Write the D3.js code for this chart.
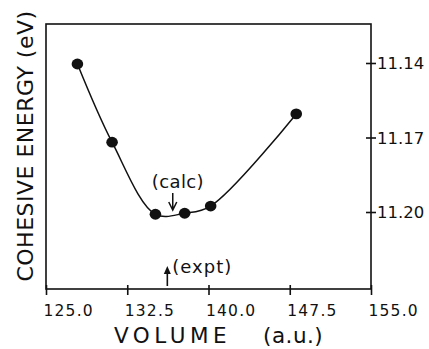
<!DOCTYPE html>
<html>
<head>
<meta charset="utf-8">
<script src="https://cdn.jsdelivr.net/npm/d3@7"></script>
<style>
  body { margin: 0; background: #fff; }
  svg { display: block; font-family: "DejaVu Sans", sans-serif; }
</style>
</head>
<body>
<svg></svg>
<script>
// values
const volumes = [127.9, 131.1, 135.1, 137.8, 140.2, 148.1];
const energies = [11.1404, 11.1719, 11.2009, 11.2005, 11.1976, 11.1605];
const xTicks = [125.0, 132.5, 140.0, 147.5, 155.0];
const yTicks = [11.14, 11.17, 11.20];
const calcVolume = 136.7;
const exptVolume = 136.2;

const svg = d3.select("svg")
    .attr("width", 429)
    .attr("height", 349);

const margin = { top: 24, right: 58, bottom: 60, left: 46 };
const width = 429 - margin.left - margin.right;
const height = 349 - margin.top - margin.bottom;

const g = svg.append("g")
    .attr("transform", `translate(${margin.left},${margin.top})`);

const x = d3.scaleLinear().domain([125, 155]).range([0, width]);
const y = d3.scaleLinear().domain([11.1243, 11.2310]).range([0, height]);

const ink = "#111";

// frame
g.append("rect")
    .attr("width", width)
    .attr("height", height)
    .attr("fill", "none")
    .attr("stroke", ink)
    .attr("stroke-width", 1.6);

// bottom axis, ticks crossing the line
const xAxis = g.append("g")
    .attr("transform", `translate(0,${height})`)
    .call(d3.axisBottom(x).tickValues(xTicks).tickFormat(d3.format(".1f")).tickSize(6).tickSizeOuter(0));
xAxis.select(".domain").remove();
xAxis.selectAll("line").attr("y1", -4).attr("stroke", ink).attr("stroke-width", 1.6);
xAxis.selectAll("text")
    .attr("text-anchor", "start")
    .attr("x", -3)
    .attr("y", 27)
    .attr("dy", 0)
    .attr("fill", ink)
    .style("font-size", "15.5px")
    .style("letter-spacing", "1.2px")
    .style("font-family", "DejaVu Sans");

// right axis
const yAxis = g.append("g")
    .attr("transform", `translate(${width},0)`)
    .call(d3.axisRight(y).tickValues(yTicks).tickFormat(d3.format(".2f")).tickSize(5).tickSizeOuter(0));
yAxis.select(".domain").remove();
yAxis.selectAll("line").attr("x1", -5).attr("stroke", ink).attr("stroke-width", 1.6);
yAxis.selectAll("text")
    .attr("x", 6)
    .attr("dy", "0.36em")
    .attr("fill", ink)
    .style("font-size", "16.5px")
    .style("letter-spacing", "0px")
    .style("font-family", "DejaVu Sans");

// fitted curve through the points
const pts = volumes.map((v, i) => [v, energies[i]]);
g.append("path")
    .datum(pts)
    .attr("fill", "none")
    .attr("stroke", ink)
    .attr("stroke-width", 1.5)
    .attr("d", d3.line().x(d => x(d[0])).y(d => y(d[1])).curve(d3.curveCatmullRom.alpha(0.5)));

g.selectAll(".dot")
    .data(pts)
    .enter()
    .append("ellipse")
    .attr("class", "dot")
    .attr("cx", d => x(d[0]))
    .attr("cy", d => y(d[1]))
    .attr("rx", 5.8)
    .attr("ry", 5.4)
    .attr("fill", ink);

// (calc) annotation
const cx = x(calcVolume);
g.append("text")
    .attr("x", cx - 21)
    .attr("y", 188 - margin.top)
    .attr("fill", ink)
    .style("font-size", "18px")
    .style("letter-spacing", "0.4px")
    .text("(calc)");
g.append("path")
    .attr("d", `M${cx},${193 - margin.top}V${210 - margin.top}M${cx - 4},${202 - margin.top}L${cx},${210 - margin.top}L${cx + 4},${202 - margin.top}`)
    .attr("fill", "none")
    .attr("stroke", ink)
    .attr("stroke-width", 1.5);

// (expt) annotation
const ex = x(exptVolume);
g.append("path")
    .attr("d", `M${ex},${286 - margin.top}V${270 - margin.top}`)
    .attr("stroke", ink)
    .attr("stroke-width", 1.6);
g.append("path")
    .attr("d", `M${ex - 3.5},${274 - margin.top}L${ex},${266 - margin.top}L${ex + 3.5},${274 - margin.top}Z`)
    .attr("fill", ink);
g.append("text")
    .attr("x", ex + 5)
    .attr("y", 273 - margin.top)
    .attr("fill", ink)
    .style("font-size", "18px")
    .style("letter-spacing", "1px")
    .text("(expt)");

// axis titles
svg.append("text")
    .attr("x", 114)
    .attr("y", 343)
    .attr("fill", ink)
    .style("font-size", "21.5px")
    .style("letter-spacing", "4.5px")
    .text("VOLUME");
svg.append("text")
    .attr("x", 263)
    .attr("y", 343)
    .attr("fill", ink)
    .style("font-size", "21.5px")
    .style("letter-spacing", "0.5px")
    .text("(a.u.)");

svg.append("text")
    .attr("transform", "translate(33,146) rotate(-90)")
    .attr("text-anchor", "middle")
    .attr("fill", ink)
    .style("font-size", "22px")
    .style("letter-spacing", "0.5px")
    .text("COHESIVE ENERGY (eV)");
</script>
</body>
</html>
